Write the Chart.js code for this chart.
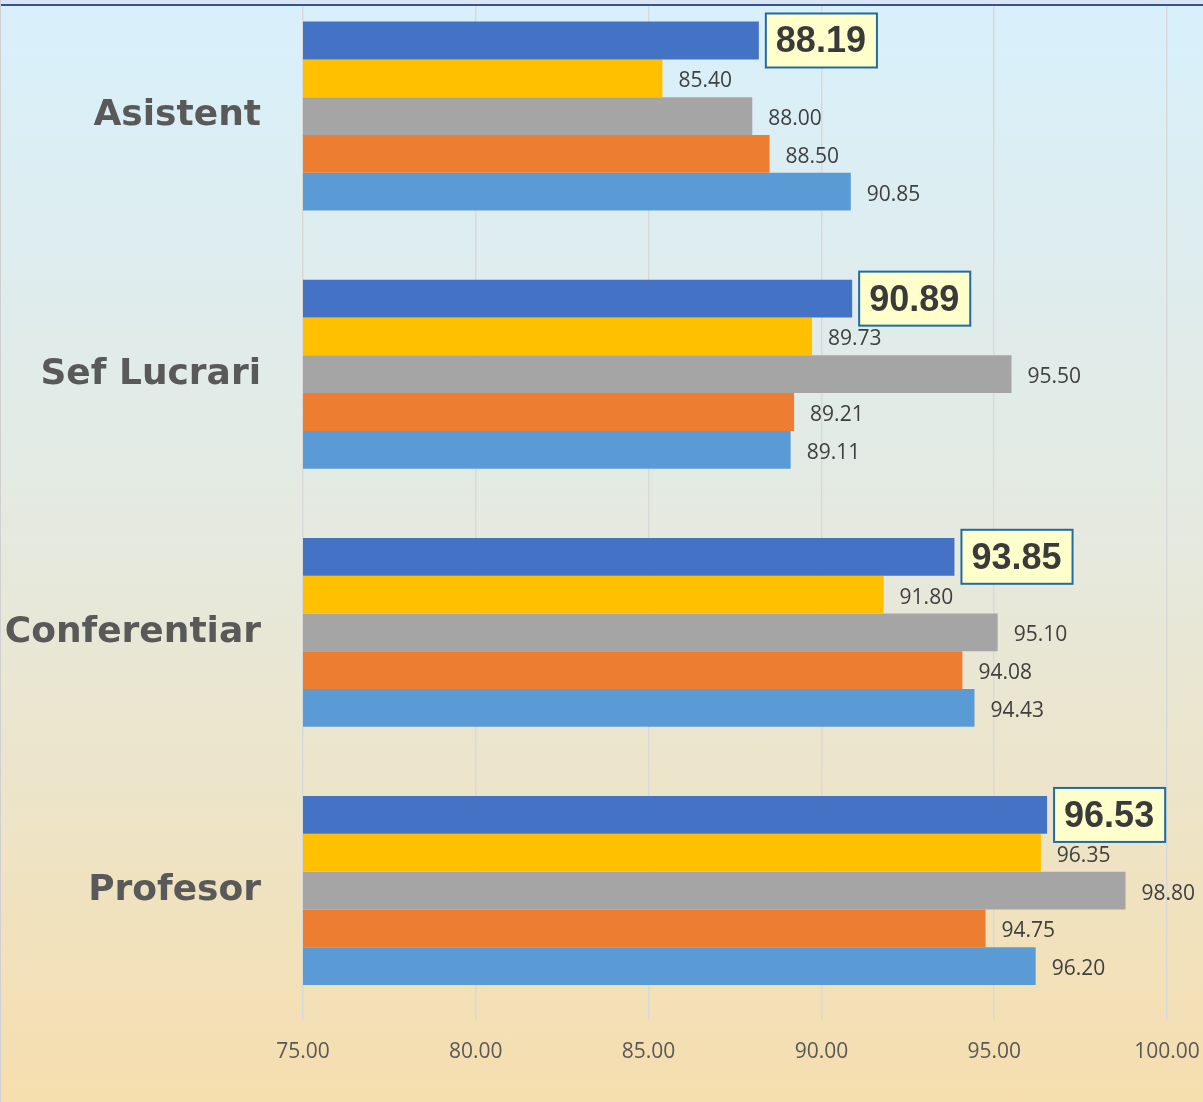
<!DOCTYPE html>
<html>
<head>
<meta charset="utf-8">
<script src="https://cdn.jsdelivr.net/npm/chart.js@4/dist/chart.umd.min.js"></script>
<style>
  body { margin: 0; }
  #wrap {
    position: relative; width: 1203px; height: 1102px; overflow: hidden;
    background: linear-gradient(to bottom, #D8F0FC 0%, #E4EAE2 45%, #F6DEAE 100%);
    border-left: 1px solid #D0D0D0; box-sizing: border-box;
  }
  #topbar {
    position: absolute; left: 0; top: 0; width: 100%; height: 4px;
    background: #DCE4F4; border-bottom: 2px solid #2F5597; z-index: 2;
  }
  #myChart { position: absolute; left: -1px; top: -13px; }
</style>
</head>
<body>
<div id="wrap">
  <div id="topbar"></div>
  <canvas id="myChart" width="1203" height="1115"></canvas>
</div>
<script>
// date
const categories = ['Asistent', 'Sef Lucrari', 'Conferentiar', 'Profesor'];
const serie1 = [88.19, 90.89, 93.85, 96.53];
const serie2 = [85.40, 89.73, 91.80, 96.35];
const serie3 = [88.00, 95.50, 95.10, 98.80];
const serie4 = [88.50, 89.21, 94.08, 94.75];
const serie5 = [90.85, 89.11, 94.43, 96.20];
const xTicks = [75, 80, 85, 90, 95, 100];

const culori = ['#4472C4', '#FFC000', '#A5A5A5', '#ED7D31', '#5B9BD5'];
const serii = [serie1, serie2, serie3, serie4, serie5];

// etichete de valori, prima serie in chenar galben
const etichete = {
  id: 'etichete',
  afterDatasetsDraw(chart) {
    const ctx = chart.ctx;
    ctx.save();
    chart.data.datasets.forEach((ds, i) => {
      const meta = chart.getDatasetMeta(i);
      meta.data.forEach((bar, j) => {
        const txt = ds.data[j].toFixed(2);
        if (i === 0) {
          ctx.font = 'bold 36px "Liberation Sans"';
          const w = ctx.measureText(txt).width + 21;
          const h = 54;
          const x0 = bar.x + 7;
          ctx.fillStyle = '#FFFFCC';
          ctx.fillRect(x0, bar.y - h / 2, w, h);
          ctx.strokeStyle = '#1F6BA5';
          ctx.lineWidth = 2;
          ctx.strokeRect(x0, bar.y - h / 2, w, h);
          ctx.fillStyle = '#3A3A3A';
          ctx.textAlign = 'left';
          ctx.textBaseline = 'middle';
          ctx.fillText(txt, x0 + 10, bar.y + 2);
        } else {
          ctx.font = '21px "Open Sans"';
          ctx.fillStyle = '#404040';
          ctx.textAlign = 'left';
          ctx.textBaseline = 'middle';
          ctx.fillText(txt, bar.x + 16, bar.y + 3);
        }
      });
    });
    ctx.restore();
  }
};

var ctx = document.getElementById('myChart').getContext('2d');
var myChart = new Chart(ctx, {
  type: 'bar',
  data: {
    labels: categories,
    datasets: serii.map((s, i) => ({
      label: 'Seria ' + (i + 1),
      data: s,
      backgroundColor: culori[i],
      borderWidth: 0,
      categoryPercentage: 0.732,
      barPercentage: 1.0
    }))
  },
  options: {
    indexAxis: 'y',
    responsive: false,
    animation: false,
    devicePixelRatio: 1,
    layout: { padding: { left: 0, right: 36, top: 0, bottom: 0 } },
    plugins: {
      legend: { display: false },
      tooltip: { enabled: false }
    },
    scales: {
      x: {
        min: 75,
        max: 100,
        afterBuildTicks(scale) { scale.ticks = xTicks.map(v => ({ value: v })); },
        afterFit(scale) { scale.height = 82.4; scale.paddingLeft = 0; scale.paddingRight = 0; },
        grid: { color: '#D9D9D9', lineWidth: 1.5, drawTicks: false },
        border: { display: false },
        ticks: {
          padding: 20,
          color: '#595959',
          font: { family: 'Open Sans', size: 21 },
          callback: v => Number(v).toFixed(2)
        }
      },
      y: {
        afterFit(scale) { scale.width = 303; scale.paddingTop = 0; scale.paddingBottom = 0; },
        grid: { display: false, drawTicks: false },
        border: { display: false },
        ticks: {
          padding: 42,
          color: '#595959',
          font: { family: 'DejaVu Sans', size: 36, weight: 'bold' }
        }
      }
    }
  },
  plugins: [etichete]
});
</script>
</body>
</html>
